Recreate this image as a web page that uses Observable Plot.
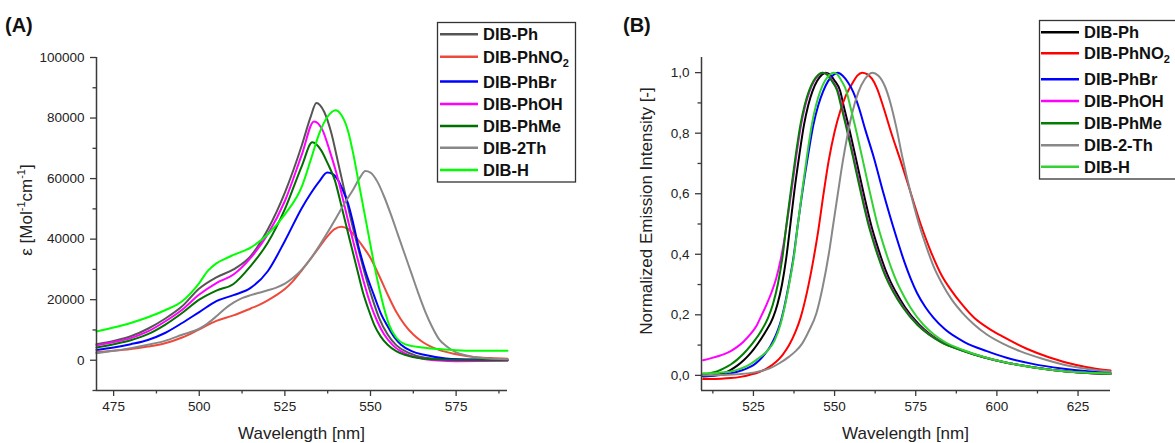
<!DOCTYPE html>
<html>
<head>
<meta charset="utf-8">
<script src="https://cdn.jsdelivr.net/npm/d3@7"></script>
<script src="https://cdn.jsdelivr.net/npm/@observablehq/plot@0.6"></script>
<style>
  html, body { margin: 0; padding: 0; background: #fff; }
  #wrap { position: relative; width: 1175px; height: 443px; overflow: hidden; background: #fff;
          font-family: "Liberation Sans", Arial, sans-serif; }
  #A, #B, #overlay { position: absolute; top: 0; }
  #A { left: 0; }
  #B { left: 600px; }
  #overlay { left: 0; pointer-events: none; }
</style>
</head>
<body>
<div id="wrap">
  <div id="A"></div>
  <div id="B"></div>
  <div id="overlay"></div>
</div>
<script>
// ---------------- DATA ----------------
const seriesKeys = ["Ph", "PhNO2", "PhBr", "PhOH", "PhMe", "2Th", "H"];
const legendLabelsA = ["DIB-Ph", "DIB-PhNO2", "DIB-PhBr", "DIB-PhOH", "DIB-PhMe", "DIB-2Th", "DIB-H"];
const legendLabelsB = ["DIB-Ph", "DIB-PhNO2", "DIB-PhBr", "DIB-PhOH", "DIB-PhMe", "DIB-2-Th", "DIB-H"];
const colorsA = ["#555555", "#ee4a3c", "#0000ff", "#ff00ff", "#007000", "#888888", "#00ff00"];
const colorsB = ["#000000", "#ff0000", "#0000ff", "#ff00ff", "#007f00", "#888888", "#33d133"];

// Panel A ticks
const xTicksA = [475, 500, 525, 550, 575];
const xMinorA = [487.5, 512.5, 537.5, 562.5, 587.5];
const yTicksA = [0, 20000, 40000, 60000, 80000, 100000];
const yMinorA = [-10000, 10000, 30000, 50000, 70000, 90000];
// Panel B ticks
const xTicksB = [525, 550, 575, 600, 625];
const xMinorB = [512.5, 537.5, 562.5, 587.5, 612.5];
const yTicksB = [0, 0.2, 0.4, 0.6, 0.8, 1.0];
const yMinorB = [0.1, 0.3, 0.5, 0.7, 0.9];

// Panel A: absorption (wavelength nm, epsilon)
const absPh = [[470,5300],[475,6400],[480,7900],[485,10400],[490,13700],[495,17800],[500,23700],[505,27400],[510,30000],[515,34400],[520,43200],[525,55400],[530,71200],[532.5,80300],[534.2,85000],[536.5,82000],[538.6,74900],[540.5,65500],[542.5,55500],[544.5,45500],[546.5,36500],[548.5,28000],[550.5,20500],[552.5,14000],[555,8500],[557.5,5000],[561,2500],[566,800],[575,200],[590,100]];
const absPhNO2 = [[470,2600],[475,3100],[480,3700],[485,4500],[490,5600],[495,7500],[500,10200],[505,13000],[510,14800],[515,17100],[517.5,18300],[520,19800],[522.5,21500],[525,23500],[527.5,26300],[530,29800],[532.5,33500],[535,37300],[537.5,41000],[539.5,43300],[541.5,44100],[543.5,43300],[545.5,41000],[547.5,38000],[550,33800],[552.5,28000],[555,21700],[557.5,16000],[560,11700],[562.5,8500],[565,6200],[570,3400],[575,2000],[580,1100],[585,700],[590,450]];
const absPhBr = [[470,3400],[475,4200],[480,5300],[485,6700],[490,9000],[495,12300],[500,15900],[505,19500],[510,21500],[515,23900],[520,29400],[525,39400],[530,50400],[532.5,55000],[535,59000],[537.4,62000],[539,61500],[540.6,59400],[542,56000],[543.5,51600],[545,45000],[546.5,37500],[548.5,29500],[551,21500],[553,15500],[555,11200],[557,7500],[559,5000],[562,3000],[566,1700],[572,600],[580,200],[590,100]];
const absPhOH = [[470,4900],[475,6000],[480,7300],[485,9500],[490,12800],[495,16700],[500,21700],[505,25500],[510,28300],[515,33800],[520,41600],[525,52600],[530,68100],[533.5,78900],[536,76000],[538,69500],[540,62000],[542,53000],[544,43500],[546,34500],[548,26000],[550,18500],[552,12800],[554,8500],[556.5,5000],[560,2300],[565,600],[570,-100],[575,-300],[590,-200]];
const absPhMe = [[470,4200],[475,5300],[480,6600],[485,8600],[490,11700],[495,15600],[500,20000],[505,23000],[510,25200],[515,31100],[520,38800],[525,49900],[530,64300],[533,72000],[535.5,69500],[537.5,65000],[539.6,59400],[541.5,51000],[544,39500],[546,30500],[547.7,22800],[549.5,16500],[551.1,11700],[553,7800],[555,5100],[557.5,3000],[560,1800],[565,600],[575,100],[590,0]];
const abs2Th = [[470,2300],[475,3100],[480,4000],[485,5100],[490,6400],[495,8400],[500,10400],[502.5,12200],[505,14500],[507.5,17000],[510,19000],[512.5,20500],[515,21500],[517.5,22300],[520,23100],[522.5,24000],[525,25300],[527.5,27300],[530,30000],[532.5,33500],[535,37700],[537.5,42300],[540,47100],[542.5,52000],[545,56500],[547,60500],[548.5,62500],[550,62000],[552,59000],[554,54000],[556,48000],[558,41500],[560,35000],[562,28500],[564,22000],[566,16000],[568,11000],[570,7000],[572,4800],[575,2600],[578,1600],[582,800],[590,300]];
const absH = [[470,9500],[475,10800],[480,12300],[485,14200],[490,16500],[495,19500],[500,25500],[502.5,29500],[505,32000],[507.5,33500],[510,34800],[515,37200],[520,41600],[525,48200],[530,57500],[532.5,66000],[535,74800],[537.5,80500],[539.8,82600],[541.5,81000],[543.5,75500],[545,68000],[546.5,59000],[548,50000],[549.5,41000],[551,32000],[552.5,24000],[554,17000],[555.5,11500],[557.5,7500],[560,5300],[565,4200],[570,3700],[575,3300],[580,3100],[590,3100]];

// Panel B: normalized emission (wavelength nm, intensity)
const emPh = [[509.5,-0.004],[512,-0.002],[514,0.002],[516,0.008],[518,0.018],[520,0.032],[522,0.05],[523.5,0.066],[525,0.085],[526.5,0.107],[528.5,0.14],[531,0.19],[532.4,0.235],[533.8,0.3],[535.1,0.387],[536.4,0.5],[537.6,0.608],[539.1,0.725],[540.6,0.829],[541.9,0.893],[543.2,0.939],[544.6,0.972],[546.1,0.993],[547.2,1],[548.4,0.995],[549.9,0.975],[551.7,0.94],[552.8,0.89],[554.2,0.829],[556.5,0.72],[558.8,0.608],[561.3,0.495],[562.8,0.44],[564.3,0.39],[565.8,0.345],[567.3,0.308],[568.8,0.277],[571.7,0.225],[576,0.168],[579.5,0.135],[583,0.111],[589.3,0.083],[596,0.06],[603,0.042],[611,0.027],[621.5,0.013],[628,0.008],[635,0.005]];
const emPhNO2 = [[509.5,-0.012],[512,-0.012],[515,-0.011],[518,-0.009],[521,-0.005],[524,0.002],[527,0.012],[529.3,0.024],[532,0.045],[534,0.068],[536,0.1],[538,0.145],[539.5,0.19],[541.5,0.275],[543.6,0.39],[545,0.48],[546.6,0.6],[548.2,0.71],[550,0.805],[551.8,0.875],[553.5,0.925],[555.5,0.965],[557,0.99],[558.5,1],[560,0.995],[561.5,0.98],[563,0.95],[565.1,0.884],[567.5,0.8],[570.3,0.71],[573.3,0.608],[576.5,0.5],[579.8,0.405],[583,0.33],[586,0.28],[589.2,0.235],[593,0.19],[597.9,0.152],[602,0.127],[609.2,0.088],[616,0.06],[624.5,0.034],[630,0.023],[635,0.016]];
const emPhBr = [[509.5,-0.002],[512,-0.001],[514,0],[516,0.003],[518,0.007],[520,0.012],[521.5,0.017],[523.2,0.024],[525,0.034],[526.8,0.05],[528.5,0.07],[530.3,0.098],[531.8,0.13],[533.2,0.17],[534.5,0.225],[535.9,0.3],[537.3,0.387],[538.7,0.5],[540.1,0.608],[541.8,0.725],[543.5,0.829],[545,0.893],[546.5,0.939],[548,0.972],[549.7,0.993],[551,1],[552.5,0.99],[554,0.97],[555.8,0.935],[557.5,0.884],[559.5,0.81],[562.1,0.719],[565.1,0.6],[568.5,0.475],[571.5,0.375],[573.5,0.318],[575.4,0.272],[578,0.225],[580.5,0.19],[584,0.152],[590,0.11],[596.9,0.08],[603,0.058],[611,0.038],[620,0.023],[628,0.014],[635,0.009]];
const emPhOH = [[509.5,0.05],[512,0.057],[514,0.063],[516,0.07],[518,0.08],[520,0.094],[522,0.112],[524,0.135],[526,0.165],[527.5,0.198],[529,0.233],[530.5,0.272],[532,0.32],[533.3,0.378],[534.4,0.44],[535.4,0.51],[536.7,0.608],[538.2,0.725],[539.7,0.829],[541,0.893],[542.3,0.939],[543.7,0.972],[545.2,0.993],[546.4,1],[547.7,0.995],[549.2,0.975],[551,0.94],[552.2,0.89],[553.6,0.829],[555.9,0.72],[558.2,0.608],[560.7,0.495],[562.2,0.44],[563.7,0.39],[565.2,0.345],[566.7,0.308],[568.2,0.277],[571.2,0.225],[575.6,0.168],[579.2,0.135],[582.8,0.111],[589.2,0.083],[596,0.06],[603,0.042],[611,0.027],[621.5,0.013],[628,0.008],[635,0.005]];
const emPhMe = [[509.5,0.003],[512,0.008],[514,0.014],[516,0.024],[518,0.036],[520,0.052],[522,0.072],[523.5,0.09],[525,0.11],[527,0.14],[529.5,0.19],[531,0.235],[532.5,0.3],[533.9,0.387],[535.2,0.5],[536.5,0.608],[538,0.725],[539.5,0.829],[540.8,0.893],[542.1,0.939],[543.5,0.972],[545,0.993],[546.2,1],[547.5,0.995],[549,0.975],[550.8,0.94],[552,0.89],[553.4,0.829],[555.7,0.72],[558,0.608],[560.5,0.495],[562,0.44],[563.5,0.39],[565,0.345],[566.5,0.308],[568,0.277],[571,0.225],[575.4,0.168],[579,0.135],[582.6,0.111],[589,0.083],[595.9,0.06],[603,0.042],[611,0.027],[621.5,0.013],[628,0.008],[635,0.005]];
const em2Th = [[509.5,0],[515,0.001],[520,0.004],[525,0.009],[528,0.016],[530,0.023],[533,0.04],[536,0.062],[538,0.08],[540,0.105],[542,0.145],[544.4,0.205],[546.3,0.29],[548.2,0.4],[549.6,0.5],[551,0.6],[552.5,0.705],[554,0.795],[555.5,0.87],[557.3,0.935],[559.3,0.978],[561.6,1],[563.5,0.99],[565.5,0.955],[567.2,0.9],[569,0.82],[570.8,0.725],[573.3,0.608],[576,0.5],[578.5,0.418],[580.5,0.36],[583,0.305],[586.1,0.25],[589.5,0.205],[592.8,0.17],[596.9,0.135],[602,0.104],[607.1,0.08],[614,0.055],[622.5,0.031],[628,0.021],[635,0.013]];
const emH = [[509.5,0.007],[512,0.007],[514,0.008],[516,0.01],[518,0.013],[520,0.018],[522,0.026],[524,0.037],[526,0.052],[527.5,0.064],[529.2,0.08],[531.5,0.115],[533.3,0.167],[534.6,0.225],[536,0.3],[537.4,0.387],[538.7,0.5],[540,0.608],[541.5,0.725],[543,0.829],[544.3,0.893],[545.6,0.939],[547,0.972],[548.5,0.993],[549.7,1],[550.8,0.995],[552,0.975],[553.6,0.94],[554.8,0.89],[556.2,0.829],[558.5,0.72],[560.8,0.608],[563.3,0.495],[564.8,0.44],[566.3,0.39],[567.8,0.345],[569.2,0.308],[570.6,0.277],[573.3,0.225],[577.3,0.168],[580.6,0.135],[583.9,0.111],[589.8,0.083],[596.3,0.06],[603.2,0.042],[611,0.027],[621.5,0.013],[628,0.009],[635,0.006]];

const absSeries = [absPh, absPhNO2, absPhBr, absPhOH, absPhMe, abs2Th, absH];
const emSeries = [emPh, emPhNO2, emPhBr, emPhOH, emPhMe, em2Th, emH];

// ---------------- CHARTS ----------------
const FONT = '"Liberation Sans", Arial, sans-serif';
const AX = "#3a3a3a";

function panel({series, colors, width, marginLeft, marginRight, xDomain, yDomain,
                xTicks, xMinor, yTicks, yMinor, yFormat}) {
  return Plot.plot({
    width, height: 443,
    marginLeft, marginRight, marginTop: 57, marginBottom: 53,
    x: {domain: xDomain},
    y: {domain: yDomain},
    style: {fontFamily: FONT, fontSize: "13.5px", color: "#222", background: "transparent", overflow: "visible"},
    marks: [
      ...series.map((s, i) => Plot.line(s, {
        x: d => d[0], y: d => d[1], stroke: colors[i], strokeWidth: 2, curve: "monotone-x"
      })),
      Plot.ruleX([xDomain[0]], {stroke: AX, strokeWidth: 1.5}),
      Plot.ruleY([yDomain[0]], {stroke: AX, strokeWidth: 1.5}),
      Plot.axisX({ticks: xTicks, tickSize: 6, tickPadding: 5, tickFormat: d => String(d),
                  label: null, stroke: AX, strokeWidth: 1.3, fill: "#222", fontSize: 13.5}),
      Plot.axisX({ticks: xMinor, tickSize: 3.5, tickFormat: () => "", label: null, stroke: AX, strokeWidth: 1.3}),
      Plot.axisY({ticks: yTicks, tickSize: 6, tickPadding: 6, tickFormat: yFormat,
                  label: null, stroke: AX, strokeWidth: 1.3, fill: "#222", fontSize: 13.5}),
      Plot.axisY({ticks: yMinor, tickSize: 3.5, tickFormat: () => "", label: null, stroke: AX, strokeWidth: 1.3})
    ]
  });
}

document.getElementById("A").append(panel({
  series: absSeries, colors: colorsA, width: 590, marginLeft: 96, marginRight: 83,
  xDomain: [470, 590], yDomain: [-10000, 100000],
  xTicks: xTicksA, xMinor: xMinorA, yTicks: yTicksA, yMinor: yMinorA,
  yFormat: d => String(d)
}));

document.getElementById("B").append(panel({
  series: emSeries, colors: colorsB, width: 575, marginLeft: 101, marginRight: 65,
  xDomain: [509, 635], yDomain: [-0.05, 1.05],
  xTicks: xTicksB, xMinor: xMinorB, yTicks: yTicksB, yMinor: yMinorB,
  yFormat: d => d.toFixed(1).replace(".", ",")
}));

// ---------------- TEXT / LEGENDS OVERLAY ----------------
const svg = d3.select("#overlay").append("svg")
  .attr("width", 1175).attr("height", 443)
  .style("font-family", FONT).style("overflow", "hidden");

svg.append("text").attr("x", 5).attr("y", 32).attr("font-size", 20).attr("font-weight", "bold").attr("fill", "#111").text("(A)");
svg.append("text").attr("x", 623).attr("y", 32).attr("font-size", 20).attr("font-weight", "bold").attr("fill", "#111").text("(B)");

[[301.5, "Wavelength [nm]"], [905.5, "Wavelength [nm]"]].forEach(([x, t]) => {
  svg.append("text").attr("x", x).attr("y", 439).attr("text-anchor", "middle")
    .attr("font-size", 17).attr("fill", "#222").text(t);
});

const yta = svg.append("text").attr("transform", "translate(32,210) rotate(-90)")
  .attr("text-anchor", "middle").attr("font-size", 17).attr("fill", "#222");
yta.append("tspan").text("ε [Mol");
yta.append("tspan").attr("font-size", 11).attr("dy", -7).text("-1");
yta.append("tspan").attr("dy", 7).text("cm");
yta.append("tspan").attr("font-size", 11).attr("dy", -7).text("-1");
yta.append("tspan").attr("dy", 7).text("]");

svg.append("text").attr("transform", "translate(651.5,211) rotate(-90)")
  .attr("text-anchor", "middle").attr("font-size", 17).attr("fill", "#222")
  .text("Normalized Emission Intensity [-]");

function legend({x0, y0, w, h, lineX1, lineX2, textX, rows, labels, colors}) {
  svg.append("rect").attr("x", x0).attr("y", y0).attr("width", w).attr("height", h)
    .attr("fill", "#fff").attr("stroke", "#333").attr("stroke-width", 1.3);
  labels.forEach((lab, i) => {
    const cy = rows[i];
    svg.append("line").attr("x1", lineX1).attr("x2", lineX2).attr("y1", cy).attr("y2", cy)
      .attr("stroke", colors[i]).attr("stroke-width", 2.5);
    const t = svg.append("text").attr("x", textX).attr("y", cy + 6)
      .attr("font-size", 16.5).attr("font-weight", "bold").attr("fill", "#111");
    const m = lab.match(/^(.*NO)2$/);
    if (m) {
      t.append("tspan").text(m[1]);
      t.append("tspan").attr("font-size", 11).attr("dy", 4).text("2");
    } else {
      t.text(lab);
    }
  });
}

legend({x0: 437.5, y0: 22.5, w: 138, h: 159.5, lineX1: 440, lineX2: 478, textX: 483,
        rows: [34.3, 56.7, 81.5, 104, 126, 147.7, 170], labels: legendLabelsA, colors: colorsA});
legend({x0: 1039.5, y0: 20.5, w: 200, h: 158.5, lineX1: 1041, lineX2: 1079, textX: 1084,
        rows: [32.3, 53.3, 79.3, 101, 123.3, 145.3, 166.7], labels: legendLabelsB, colors: colorsB});
</script>
</body>
</html>
